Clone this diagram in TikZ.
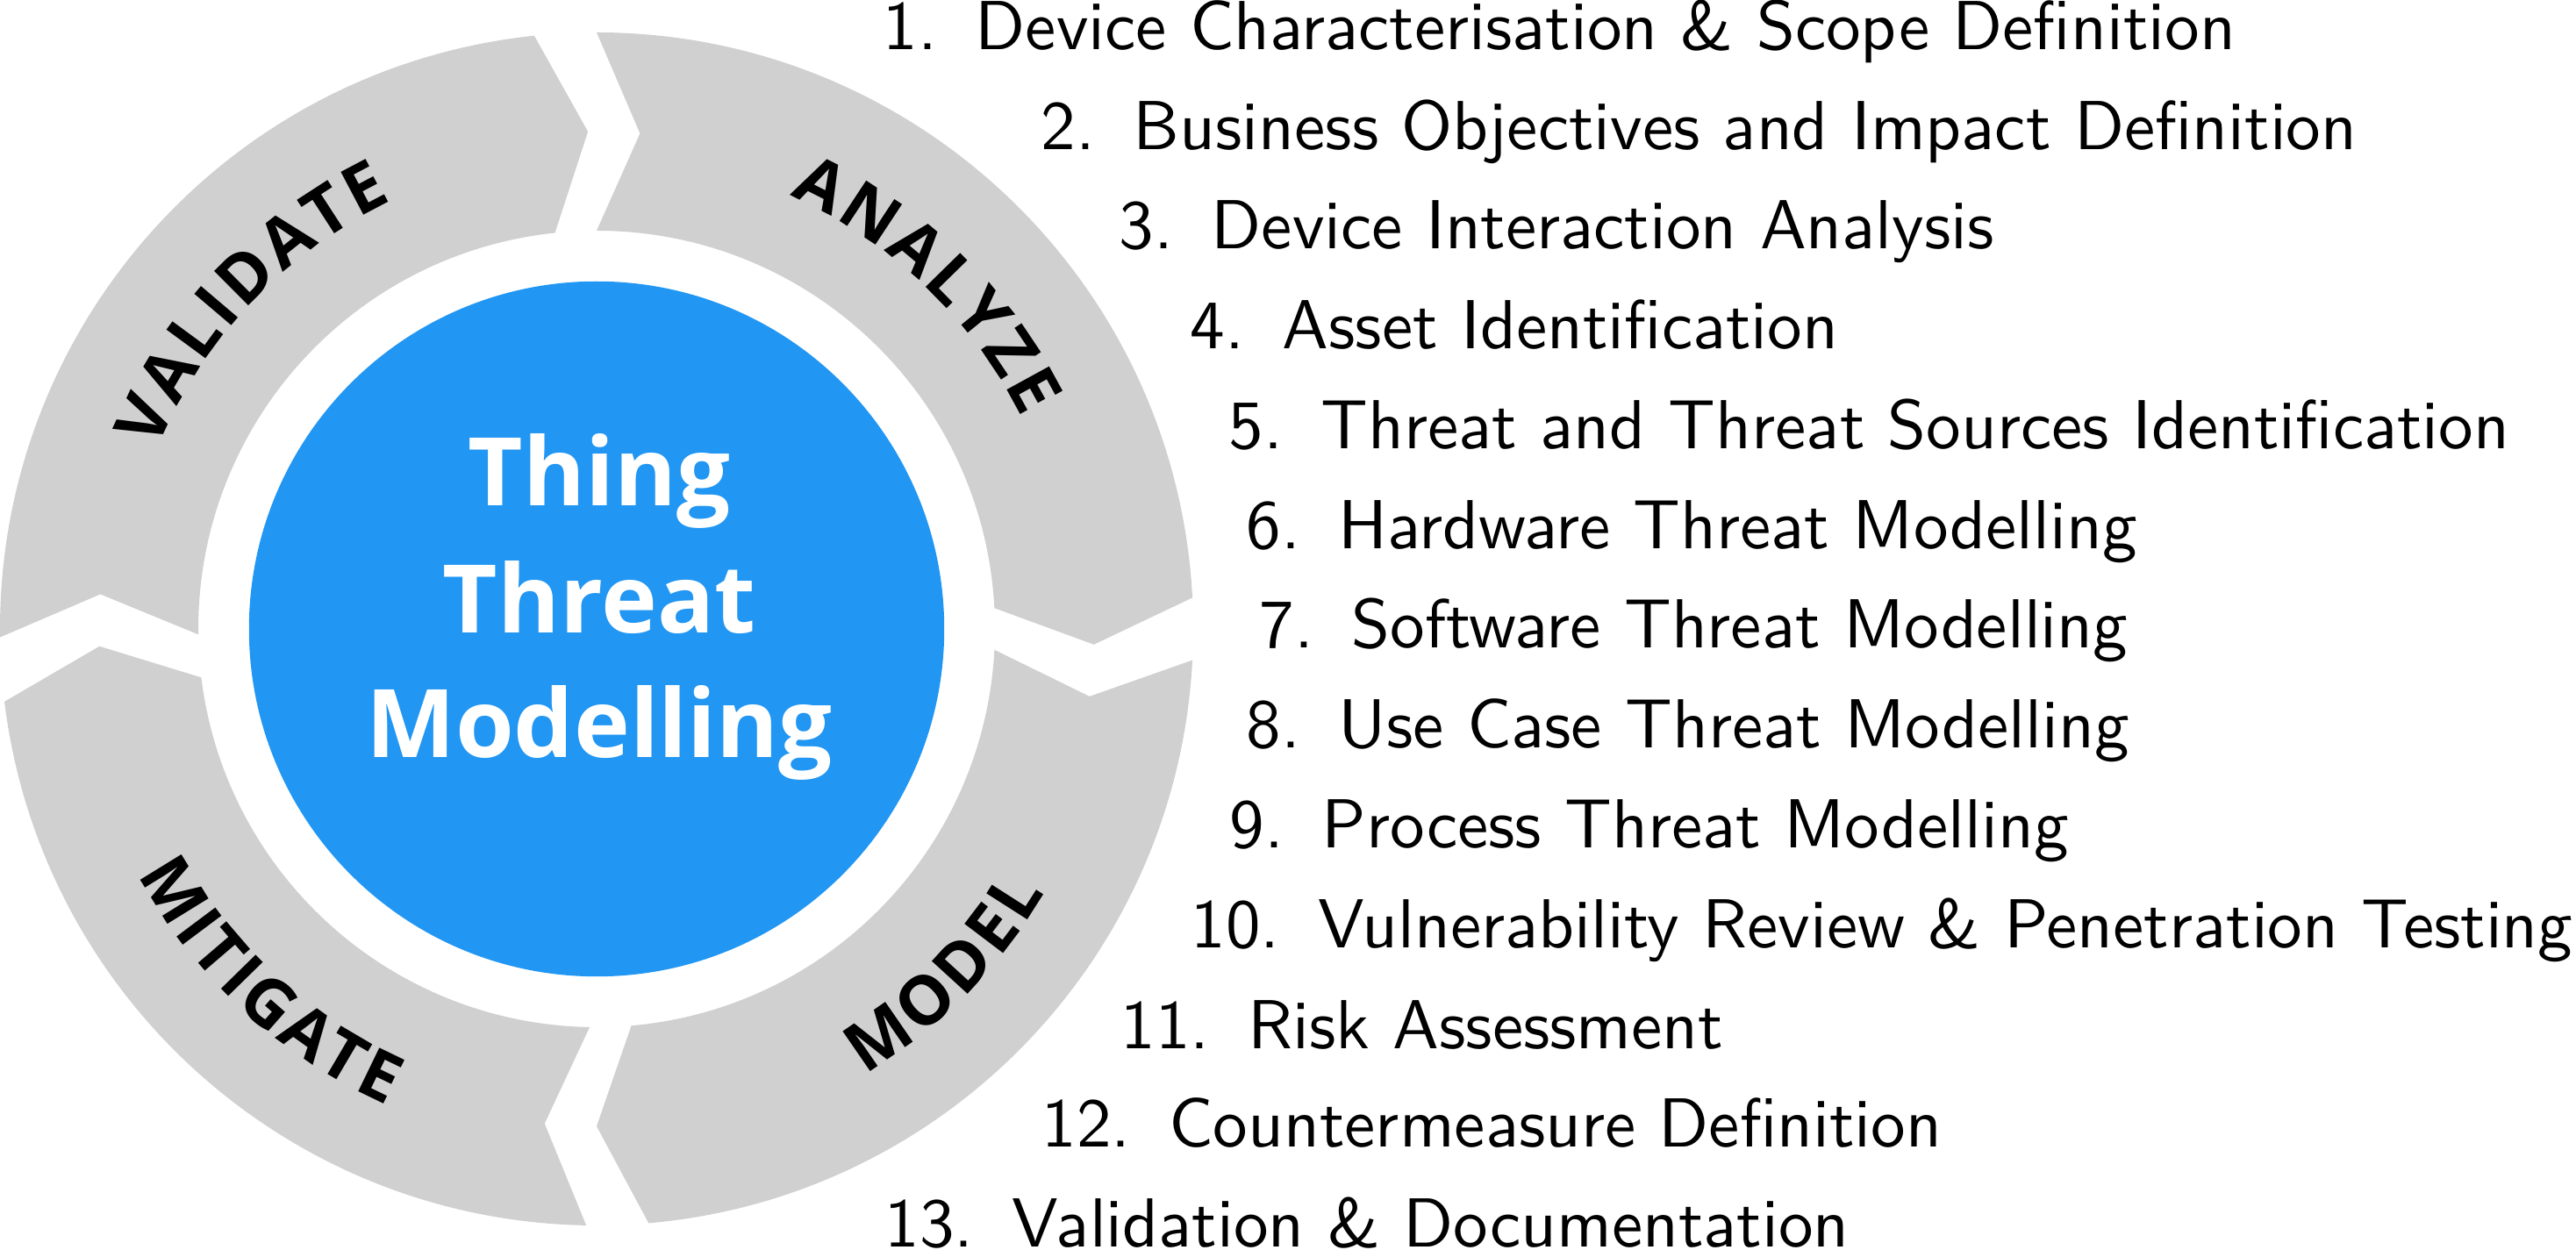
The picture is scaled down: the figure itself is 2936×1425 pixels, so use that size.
\documentclass[tikz,border=0pt]{standalone}
\usepackage{fontspec}
\newfontfamily\osans{Open Sans}
\newfontfamily\listsans{lmsans10-regular.otf}
\definecolor{tmblue}{RGB}{33,150,243}
\definecolor{ringgray}{RGB}{208,208,208}
\newcommand\ringfont{\osans\bfseries\fontsize{22}{26}\selectfont}
\def\trk{4}
\newcommand\ringseg[4]{%
  \fill[ringgray] (#1:680) arc[start angle=#1, end angle=#2, radius=680]
    -- (#3:567) -- (#2:454) arc[start angle=#2, end angle=#1, radius=454]
    -- (#4:567) -- cycle;}
\newcommand\arcword[5]{%
  \begingroup
  \ringfont
  \gdef\awtot{0}%
  \foreach \l in {#5}{%
    \pgfmathwidth{"\l"}%
    \pgfmathsetmacro\awt{\awtot+\pgfmathresult/0.284528+\trk}%
    \global\let\awtot\awt}%
  \pgfmathsetmacro\awspan{(\awtot-\trk)/#3*57.29578}%
  \pgfmathsetmacro\awstart{#2-#4*\awspan/2}%
  \gdef\awcur{0}%
  \foreach \l [count=\i] in {#5}{%
    \pgfmathwidth{"\l"}%
    \pgfmathsetmacro\aww{\pgfmathresult/0.284528}%
    \pgfmathsetmacro\awang{\awstart+#4*(\awcur+\aww/2)/#3*57.29578}%
    \pgfmathsetmacro\awrot{\awang+#4*90}%
    \node[ringletter, rotate=\awrot] (#1\i) at (\awang:#3) {\l};
    \pgfmathsetmacro\awn{\awcur+\aww+\trk}%
    \global\let\awcur\awn}%
  \endgroup}
\tikzset{
  listitem/.style={anchor=base west, inner sep=0pt, font=\listsans\fontsize{22.5}{27}\selectfont},
  titletext/.style={anchor=base, inner sep=0pt, text=white, font=\osans\bfseries\fontsize{30.7}{40}\selectfont},
  ringletter/.style={anchor=base, inner sep=0pt, text=black, font=\ringfont}
}
\begin{document}
\begin{tikzpicture}[x=0.01cm, y=0.01cm]
\useasboundingbox (0,0) rectangle (2936,1425);
\begin{scope}[shift={(680,708)}]
  \ringseg{90}{3}{-1.8}{85}
  \ringseg{-3}{-85}{-90}{-7.8}
  \ringseg{-91}{-173}{-178}{-96}
  \ringseg{180.8}{96}{91}{176}
  \arcword{va}{136.7}{541}{-1}{V,A,L,I,D,A,T,E}
  \arcword{an}{46.2}{541}{-1}{A,N,A,L,Y,Z,E}
  \arcword{mo}{-44.7}{593}{1}{M,O,D,E,L}
  \arcword{mi}{227.2}{593}{1}{M,I,T,I,G,A,T,E}
\end{scope}
\node[circle, fill=tmblue, minimum size=7.92cm, inner sep=0pt] (core) at (680,708) {};
\node[titletext] (t1) at (683,848) {Thing};
\node[titletext] (t2) at (683,703) {Threat};
\node[titletext] (t3) at (683,561) {Modelling};
\node[listitem] (l1) at (1006,1368) {1.\hspace{0.55em}Device Characterisation \& Scope Definition};
\node[listitem] (l2) at (1186,1254) {2.\hspace{0.55em}Business Objectives and Impact Definition};
\node[listitem] (l3) at (1275,1141) {3.\hspace{0.55em}Device Interaction Analysis};
\node[listitem] (l4) at (1356,1027) {4.\hspace{0.55em}Asset Identification};
\node[listitem] (l5) at (1400,913) {5.\hspace{0.55em}Threat and Threat Sources Identification};
\node[listitem] (l6) at (1420,799) {6.\hspace{0.55em}Hardware Threat Modelling};
\node[listitem] (l7) at (1435,686) {7.\hspace{0.55em}Software Threat Modelling};
\node[listitem] (l8) at (1420,572) {8.\hspace{0.55em}Use Case Threat Modelling};
\node[listitem] (l9) at (1401,458) {9.\hspace{0.55em}Process Threat Modelling};
\node[listitem] (l10) at (1357,344) {10.\hspace{0.55em}Vulnerability Review \& Penetration Testing};
\node[listitem] (l11) at (1277,229) {11.\hspace{0.55em}Risk Assessment};
\node[listitem] (l12) at (1187,117) {12.\hspace{0.55em}Countermeasure Definition};
\node[listitem] (l13) at (1008,3) {13.\hspace{0.55em}Validation \& Documentation};
\end{tikzpicture}
\end{document}
